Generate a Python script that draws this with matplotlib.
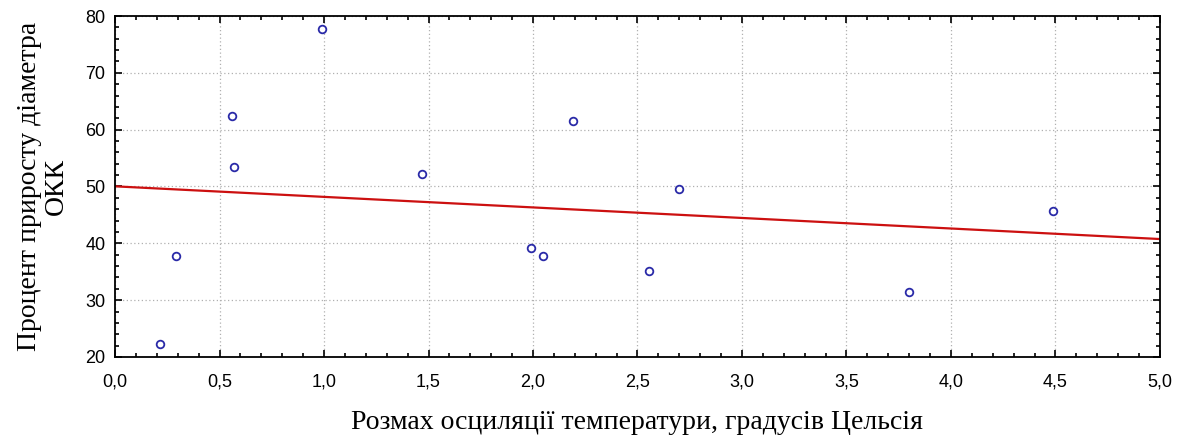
import numpy as np
import matplotlib.pyplot as plt
from matplotlib.ticker import MultipleLocator, FormatStrFormatter

# values
osc_range = [0.215, 0.29, 0.56, 0.57, 0.99, 1.47, 1.99, 2.05, 2.19, 2.555, 2.70, 3.80, 4.49]
growth_pct = [22.3, 37.8, 62.4, 53.4, 77.7, 52.2, 39.2, 37.8, 61.5, 35.1, 49.6, 31.4, 45.7]

xlabel = 'Розмах осциляції температури, градусів Цельсія'
ylabel = 'Процент приросту діаметра\nОКК'

fig = plt.figure(figsize=(11.8, 4.41), dpi=100)
ax = fig.add_axes([0.0975, 0.1905, 0.8855, 0.7732])

# linear fit, drawn over the whole x range
k, b = np.polyfit(osc_range, growth_pct, 1)
xs = np.array([0.0, 5.0])
ax.plot(xs, k * xs + b, color='#cc1010', lw=1.6, zorder=2)

ax.plot(osc_range, growth_pct, linestyle='none', marker='o', markersize=5.5,
        markerfacecolor='white', markeredgecolor='#2a2aa8', markeredgewidth=1.3, zorder=3)

ax.set_xlim(0, 5)
ax.set_ylim(20, 80)
ax.xaxis.set_major_locator(MultipleLocator(0.5))
ax.xaxis.set_minor_locator(MultipleLocator(0.1))
ax.yaxis.set_major_locator(MultipleLocator(10))
ax.yaxis.set_minor_locator(MultipleLocator(2))
ax.xaxis.set_major_formatter(lambda v, pos: f'{v:.1f}'.replace('.', ','))
ax.yaxis.set_major_formatter(FormatStrFormatter('%d'))

ax.grid(True, which='major', linestyle=(0, (1, 2)), color='#b0b0b0', lw=0.9)
ax.tick_params(which='both', direction='in', top=True, right=True, width=1.2)
ax.tick_params(which='major', length=5, labelsize=13)
ax.tick_params(axis='x', which='major', pad=12)
ax.tick_params(axis='y', which='major', pad=7)
ax.tick_params(which='minor', length=3)
for t in ax.get_xticklabels() + ax.get_yticklabels():
    t.set_family('Liberation Sans')
for s in ax.spines.values():
    s.set_linewidth(1.3)

ax.set_xlabel(xlabel, family='Liberation Serif', fontsize=20, labelpad=14)
ax.set_ylabel(ylabel, family='Liberation Serif', fontsize=20, labelpad=12, linespacing=1.05)

fig.savefig('out.png', dpi=100)
